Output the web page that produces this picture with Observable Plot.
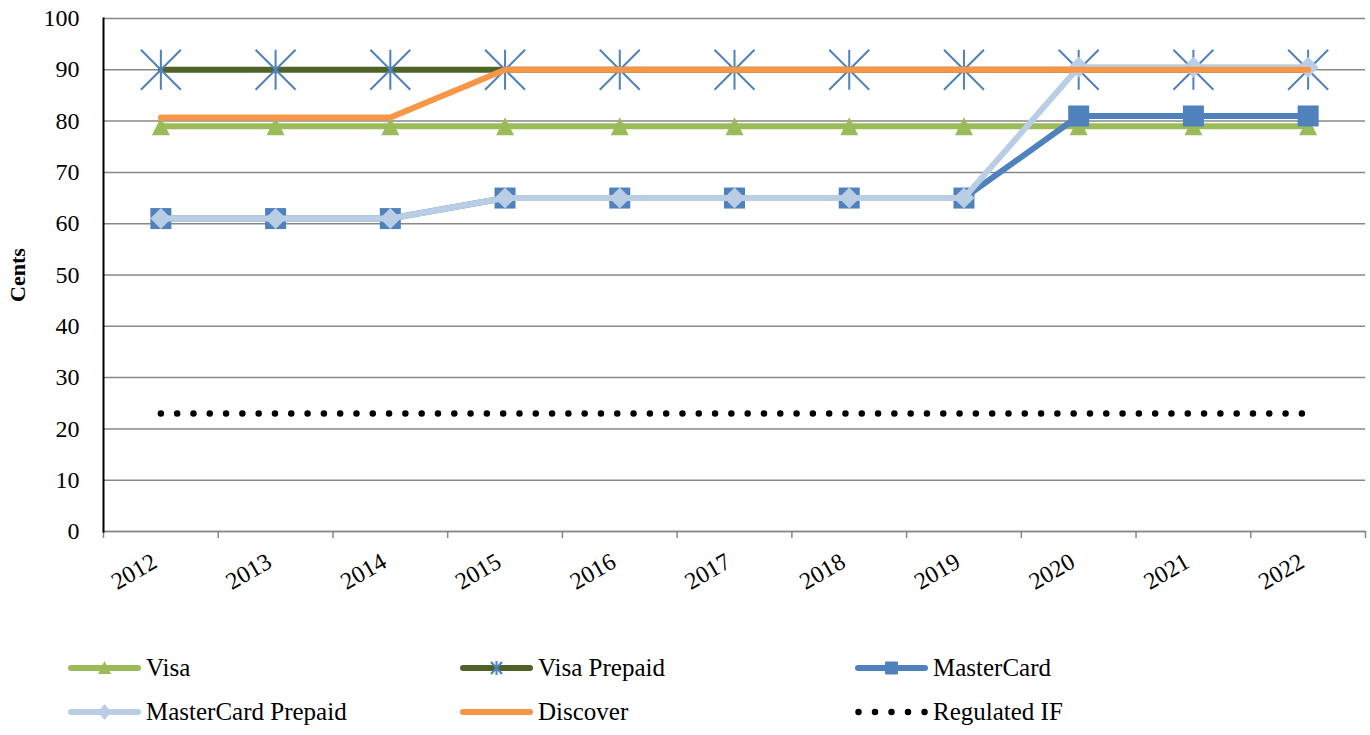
<!DOCTYPE html>
<html><head><meta charset="utf-8">
<script src="https://cdn.jsdelivr.net/npm/d3@7"></script>
<script src="https://cdn.jsdelivr.net/npm/@observablehq/plot@0.6"></script>
<style>
body{margin:0;background:#fff;font-family:"Liberation Serif","Times New Roman",Times,serif;}
#wrap{position:relative;width:1370px;height:735px;overflow:hidden;}
.item{position:absolute;display:flex;align-items:center;font-size:25px;color:#000;white-space:nowrap;font-family:"Liberation Serif","Times New Roman",Times,serif;}
.item svg{margin-right:5px;}
svg text{font-family:"Liberation Serif","Times New Roman",Times,serif;}
g[aria-label="y-axis label"] text{font-weight:bold;font-size:22px}
</style></head><body>
<div id="wrap"><div id="chart"></div><div id="legend"></div></div>
<script>
// ---- data ----
const years = [2012, 2013, 2014, 2015, 2016, 2017, 2018, 2019, 2020, 2021, 2022];
const visa            = [79, 79, 79, 79, 79, 79, 79, 79, 79, 79, 79];
const visaPrepaid     = [90, 90, 90, 90, 90, 90, 90, 90, 90, 90, 90];
const masterCard      = [61, 61, 61, 65, 65, 65, 65, 65, 81, 81, 81];
const masterCardPrep  = [61, 61, 61, 65, 65, 65, 65, 65, 90.5, 90.5, 90.5];
const discover        = [80.7, 80.7, 80.7, 90, 90, 90, 90, 90, 90, 90, 90];
const regulatedIF     = [23, 23, 23, 23, 23, 23, 23, 23, 23, 23, 23];
const seriesNames  = ["Visa", "Visa Prepaid", "MasterCard", "MasterCard Prepaid", "Discover", "Regulated IF"];
const seriesValues = [visa, visaPrepaid, masterCard, masterCardPrep, discover, regulatedIF];
const lineColors   = ["#9BBB59", "#4F6228", "#4F81BD", "#B9CDE5", "#F79646", "#000000"];
const yTicks = [0, 10, 20, 30, 40, 50, 60, 70, 80, 90, 100];

// ---- custom symbols ----
const half = s => Math.sqrt(s / Math.PI);
const symTriangle = {draw(c, s){const r = half(s); c.moveTo(0, -r); c.lineTo(r, r); c.lineTo(-r, r); c.closePath();}};
const symSquare = {draw(c, s){const r = half(s); c.rect(-r, -r, 2*r, 2*r);}};
const symDiamond = {draw(c, s){const r = half(s); c.moveTo(0, -r); c.lineTo(r, 0); c.lineTo(0, r); c.lineTo(-r, 0); c.closePath();}};
const symStar = {draw(c, s){const r = half(s); c.moveTo(-r, -r); c.lineTo(r, r); c.moveTo(-r, r); c.lineTo(r, -r); c.moveTo(0, -r); c.lineTo(0, r);}};

const markerSpecs = [
  {symbol: symTriangle, r: 9, fill: "#9BBB59", stroke: "none"},
  {symbol: symStar, r: 20, fill: "none", stroke: "#4F81BD", strokeWidth: 2},
  {symbol: symSquare, r: 10.5, fill: "#4F81BD", stroke: "none"},
  {symbol: symDiamond, r: 10.5, fill: "#B9CDE5", stroke: "none"},
  null, null
];

const table = [];
seriesNames.forEach((name, i) => years.forEach((yr, j) => table.push({series: name, year: yr, value: seriesValues[i][j]})));

const marks = [
  Plot.gridY(yTicks, {stroke: "#878787", strokeOpacity: 1, strokeWidth: 1.5}),
  Plot.axisX({ticks: years.map(y => y - 0.5).concat([years[years.length-1] + 0.5]), tickSize: 7, tickFormat: () => "", stroke: "#878787", strokeWidth: 1.5, label: null}),
  Plot.axisX({ticks: years, tickSize: 0, tickRotate: -30, tickPadding: 28, dx: -6, fontSize: 24, tickFormat: d => String(d), label: null}),
  Plot.axisY({ticks: yTicks, tickSize: 0, tickPadding: 24, fontSize: 24, label: "Cents", labelAnchor: "center", labelArrow: "none", labelOffset: 94}),
  Plot.frame({anchor: "bottom", stroke: "#878787", strokeWidth: 1.5}),
  Plot.frame({anchor: "left", stroke: "#000", strokeWidth: 2})
];
seriesNames.forEach((name, i) => {
  const d = table.filter(t => t.series === name);
  if (name === "Regulated IF") {
    marks.push(Plot.line(d, {x: "year", y: "value", stroke: lineColors[i], strokeWidth: 6.5, strokeLinecap: "round", strokeDasharray: "0 16.3"}));
  } else {
    marks.push(Plot.line(d, {x: "year", y: "value", stroke: lineColors[i], strokeWidth: 6, strokeLinecap: "round", strokeLinejoin: "round"}));
  }
  const m = markerSpecs[i];
  if (m) marks.push(Plot.dot(d, {x: "year", y: "value", symbol: () => m.symbol, r: m.r, fill: m.fill, stroke: m.stroke, strokeWidth: m.strokeWidth || 1}));
});

const chart = Plot.plot({
  width: 1370, height: 640,
  marginTop: 18, marginBottom: 109, marginLeft: 103, marginRight: 5,
  style: {fontFamily: "'Liberation Serif', 'Times New Roman', Times, serif", fontSize: "24px", color: "#000", background: "#fff"},
  x: {type: "linear", domain: [2011.5, 2022.5], axis: null},
  y: {domain: [0, 100], axis: null},
  symbol: {type: "identity"},
  marks
});
document.getElementById("chart").appendChild(chart);

// ---- legend ----
const legendPos = [[68, 668], [460, 668], [855, 668], [68, 712], [460, 712], [855, 712]];
function swatch(i) {
  const c = lineColors[i];
  let s = `<svg width="73" height="24" viewBox="0 0 73 24">`;
  if (seriesNames[i] === "Regulated IF") {
    s += `<line x1="3.5" y1="12" x2="70.5" y2="12" stroke="#000" stroke-width="6.5" stroke-linecap="round" stroke-dasharray="0 16.5"/>`;
  } else {
    s += `<line x1="3" y1="12" x2="70" y2="12" stroke="${c}" stroke-width="6" stroke-linecap="round"/>`;
  }
  if (i === 0) s += `<path d="M36.5,5 L43,18 L30,18 Z" fill="#9BBB59"/>`;
  if (i === 1) s += `<path d="M31,6 L42,18 M31,18 L42,6 M36.5,5 L36.5,19" stroke="#4F81BD" stroke-width="2" fill="none"/>`;
  if (i === 2) s += `<rect x="30" y="5.5" width="13" height="13" fill="#4F81BD" rx="1"/>`;
  if (i === 3) s += `<path d="M36.5,4 L43,12 L36.5,20 L30,12 Z" fill="#B9CDE5"/>`;
  return s + `</svg>`;
}
const legend = document.getElementById("legend");
seriesNames.forEach((name, i) => {
  const div = document.createElement("div");
  div.className = "item";
  div.style.left = legendPos[i][0] + "px";
  div.style.top = (legendPos[i][1] - 14) + "px";
  div.style.height = "28px";
  div.innerHTML = swatch(i) + `<span>${name}</span>`;
  legend.appendChild(div);
});
</script>
</body></html>
